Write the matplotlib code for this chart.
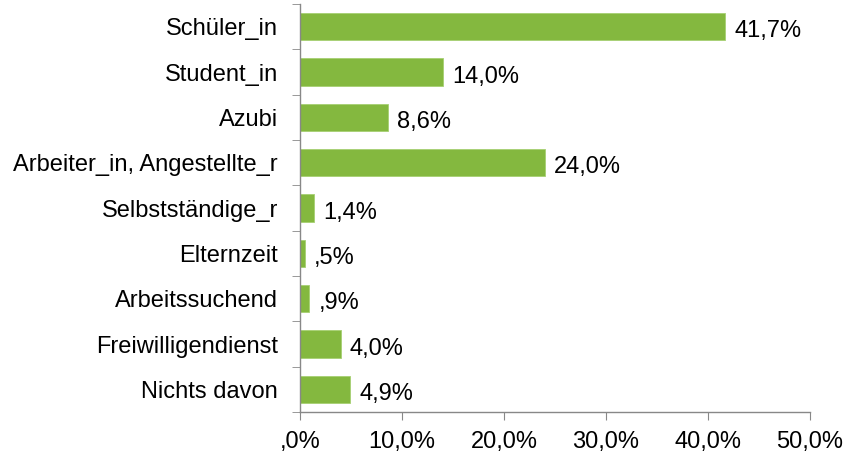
import matplotlib
matplotlib.use("Agg")
import matplotlib.pyplot as plt
import numpy as np

plt.rcParams['font.family'] = ['Liberation Sans', 'DejaVu Sans']

kategorien = ['Schüler_in', 'Student_in', 'Azubi', 'Arbeiter_in, Angestellte_r',
              'Selbstständige_r', 'Elternzeit', 'Arbeitssuchend',
              'Freiwilligendienst', 'Nichts davon']
anteile = [41.7, 14.0, 8.6, 24.0, 1.4, 0.5, 0.9, 4.0, 4.9]
xticks = [0, 10, 20, 30, 40, 50]


def fmt(v):
    s = f"{v:.1f}".replace('.', ',')
    if s.startswith('0'):
        s = s[1:]
    return s + '%'


fs = 17
fig = plt.figure(figsize=(8.5, 4.59), dpi=100)
ax = fig.add_axes([300 / 850, 47 / 459, 510 / 850, 408 / 459])

y = np.arange(len(kategorien))
ax.barh(y, anteile, height=0.6, color='#84b83f', edgecolor='#a6d072', linewidth=0.6)
for yi, v in zip(y, anteile):
    ax.text(v + 0.9, yi + 0.05, fmt(v), va='center_baseline', ha='left', fontsize=fs, color='black')

ax.set_ylim(len(kategorien) - 0.5, -0.5)
ax.set_xlim(0, 50)
ax.set_yticks(y)
ax.set_yticklabels(kategorien, fontsize=fs)
ax.set_yticks(np.arange(-0.5, len(kategorien)), minor=True)
ax.tick_params(axis='y', which='major', length=0, pad=16)
ax.tick_params(axis='y', which='minor', length=6, color='#888888', direction='out')
ax.set_xticks(xticks)
ax.set_xticklabels([fmt(t) for t in xticks], fontsize=fs)
ax.tick_params(axis='x', length=6, color='#888888', direction='out', pad=8)

for s in ['top', 'right']:
    ax.spines[s].set_visible(False)
for s in ['left', 'bottom']:
    ax.spines[s].set_color('#888888')
    ax.spines[s].set_linewidth(1)

fig.savefig('out.png', dpi=100)
